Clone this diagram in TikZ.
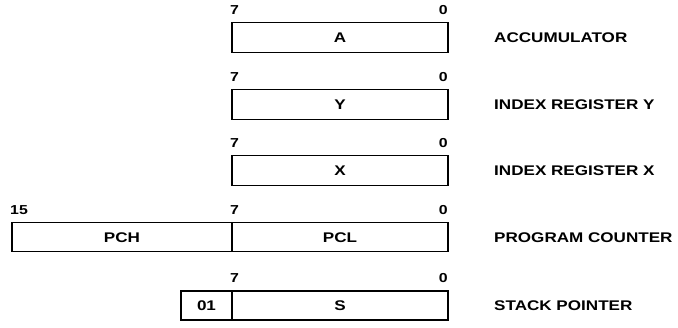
\documentclass[tikz,border=0pt]{standalone}
\usepackage{fontspec}
\newfontfamily\lblfont[FakeStretch=1.22]{Liberation Sans Bold}
\begin{document}
\begin{tikzpicture}[x=1pt,y=-1pt,
  regbox/.style={draw, line width=1.4pt, rectangle, inner sep=0pt, font=\lblfont\fontsize{14}{14}\selectfont},
  bitnum/.style={inner sep=0pt, font=\lblfont\fontsize{13}{13}\selectfont},
  rlabel/.style={inner sep=0pt, anchor=west, font=\lblfont\fontsize{14}{14}\selectfont}]
\useasboundingbox (0,0) rectangle (678,328);
% Accumulator
\node[regbox, minimum width=216, minimum height=30] (A) at (340,37.7) {A};
\node[bitnum, anchor=base west] (a7) at (230,15) {7};
\node[bitnum, anchor=base east] (a0) at (448,15) {0};
\node[rlabel] (aname) at (494,37.7) {ACCUMULATOR};
% Index Y
\node[regbox, minimum width=216, minimum height=30] (Y) at (340,104.3) {Y};
\node[bitnum, anchor=base west] (y7) at (230,81.3) {7};
\node[bitnum, anchor=base east] (y0) at (448,81.3) {0};
\node[rlabel] (yname) at (494,104.3) {INDEX REGISTER Y};
% Index X
\node[regbox, minimum width=216, minimum height=30] (X) at (340,170.5) {X};
\node[bitnum, anchor=base west] (x7) at (230,147.7) {7};
\node[bitnum, anchor=base east] (x0) at (448,147.7) {0};
\node[rlabel] (xname) at (494,170.5) {INDEX REGISTER X};
% Program counter
\node[regbox, minimum width=220, minimum height=29] (PCH) at (122,237.2) {PCH};
\node[regbox, minimum width=216, minimum height=29] (PCL) at (340,237.2) {PCL};
\node[bitnum, anchor=base west] (p15) at (10,214.7) {15};
\node[bitnum, anchor=base west] (p7) at (230,214.7) {7};
\node[bitnum, anchor=base east] (p0) at (448,214.7) {0};
\node[rlabel] (pname) at (494,237.2) {PROGRAM COUNTER};
% Stack pointer
\node[regbox, minimum width=51, minimum height=29] (S01) at (206.5,305.5) {01};
\node[regbox, minimum width=216, minimum height=29] (S) at (340,305.5) {S};
\node[bitnum, anchor=base west] (s7) at (230,283) {7};
\node[bitnum, anchor=base east] (s0) at (448,283) {0};
\node[rlabel] (sname) at (494,305.5) {STACK POINTER};
\end{tikzpicture}
\end{document}
